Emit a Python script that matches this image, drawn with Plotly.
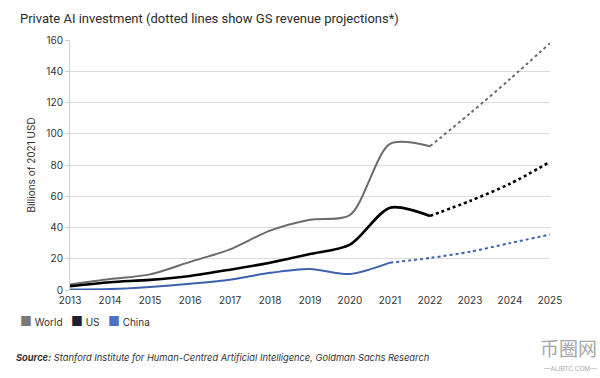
import plotly.graph_objects as go

years = [2013, 2014, 2015, 2016, 2017, 2018, 2019, 2020, 2021, 2022, 2023, 2024, 2025]
world = [3.5, 7, 10, 18, 26, 38, 45, 48, 93.5, 92, 113, 135, 158]
us = [2.5, 5, 6.5, 9, 13, 17.5, 23, 29, 52.7, 47.4, 57, 68, 82]
china = [0.3, 0.6, 2, 4, 6.5, 11, 13.5, 10.2, 17.5, 20.5, 24.5, 30, 35.5]
# index where the solid (actual) part ends and dotted projection begins
split_idx = {"World": 9, "US": 9, "China": 8}

series = [
    ("World", world, "#6b6b6b", 2.0, "#7a7a7a"),
    ("US", us, "#000000", 2.6, "#1c2035"),
    ("China", china, "#3d62ad", 2.0, "#4a72c8"),
]

L, R, T, B = 70, 50, 40, 88
W, H = 600, 378
PW, PH = W - L - R, H - T - B


def px(x):
    return (x - L) / PW


def py(y):
    return (H - B - y) / PH


fig = go.Figure()
for name, vals, color, width, _ in series:
    s = split_idx[name]
    fig.add_trace(go.Scatter(
        x=years[:s + 1], y=vals[:s + 1], mode="lines",
        line=dict(color=color, width=width, shape="spline", smoothing=0.8),
        showlegend=False, hoverinfo="x+y", name=name))
    fig.add_trace(go.Scatter(
        x=years[s:], y=vals[s:], mode="lines",
        line=dict(color=color, width=width, dash="dot", shape="spline", smoothing=0.8),
        showlegend=False, hoverinfo="x+y", name=name + " projection"))

fig.update_layout(
    width=W, height=H,
    margin=dict(l=L, r=R, t=T, b=B, autoexpand=False),
    paper_bgcolor="white", plot_bgcolor="white",
    font=dict(family="Inter, Roboto, sans-serif", color="#333333", size=10),
    title=dict(text="Private AI investment (dotted lines show GS revenue projections*)",
               x=20 / W, xref="container", xanchor="left", y=1 - 18 / H, yanchor="middle",
               yref="container",
               font=dict(size=13, color="#2b2b2b", family="Roboto, sans-serif")),
    showlegend=False,
    xaxis=dict(range=[2013, 2025], tickmode="array", tickvals=years,
               ticktext=[str(y) for y in years], showgrid=False,
               showline=False, zeroline=False, ticks="", ticklabelstandoff=3,
               tickfont=dict(size=10), fixedrange=True),
    yaxis=dict(range=[0, 160], dtick=20, showgrid=True, gridcolor="#dcdcdc",
               gridwidth=1, showline=True, linecolor="#cfcfcf", linewidth=1,
               ticks="outside", ticklen=4, tickcolor="#cfcfcf", zeroline=False,
               title=dict(text="Billions of 2021 USD", font=dict(size=10), standoff=8),
               tickfont=dict(size=10), fixedrange=True),
)

# compact legend (small squares next to labels)
legend_html = "&nbsp;&nbsp;&nbsp;".join(
    f"<span style='color:{sw};font-size:13px'>■</span>&nbsp;{name}"
    for name, _, _, _, sw in series)
fig.add_annotation(
    text=legend_html, xref="paper", yref="paper",
    x=px(18), y=py(321), xanchor="left", yanchor="middle",
    showarrow=False, font=dict(size=10, color="#333333", family="Inter, sans-serif"))

fig.add_annotation(
    text="<b><i>Source:</i></b><i> Stanford Institute for Human-Centred Artificial Intelligence, Goldman Sachs Research</i>",
    xref="paper", yref="paper", x=px(14), y=py(357),
    xanchor="left", yanchor="middle",
    showarrow=False, font=dict(size=9.3, color="#333333"))

fig.add_annotation(
    text="币圈网", xref="paper", yref="paper", x=px(599), y=py(347),
    xanchor="right", yanchor="middle", showarrow=False,
    font=dict(size=19, color="#a8a8a8", family="Noto Sans CJK SC"))
fig.add_annotation(
    text="—ALIBTC.COM—", xref="paper", yref="paper", x=px(599), y=py(369),
    xanchor="right", yanchor="middle", showarrow=False,
    font=dict(size=6.5, color="#a8a8a8"))

fig.write_html("out.html", config={"displayModeBar": False},
               post_script="document.body.style.margin='0';")
